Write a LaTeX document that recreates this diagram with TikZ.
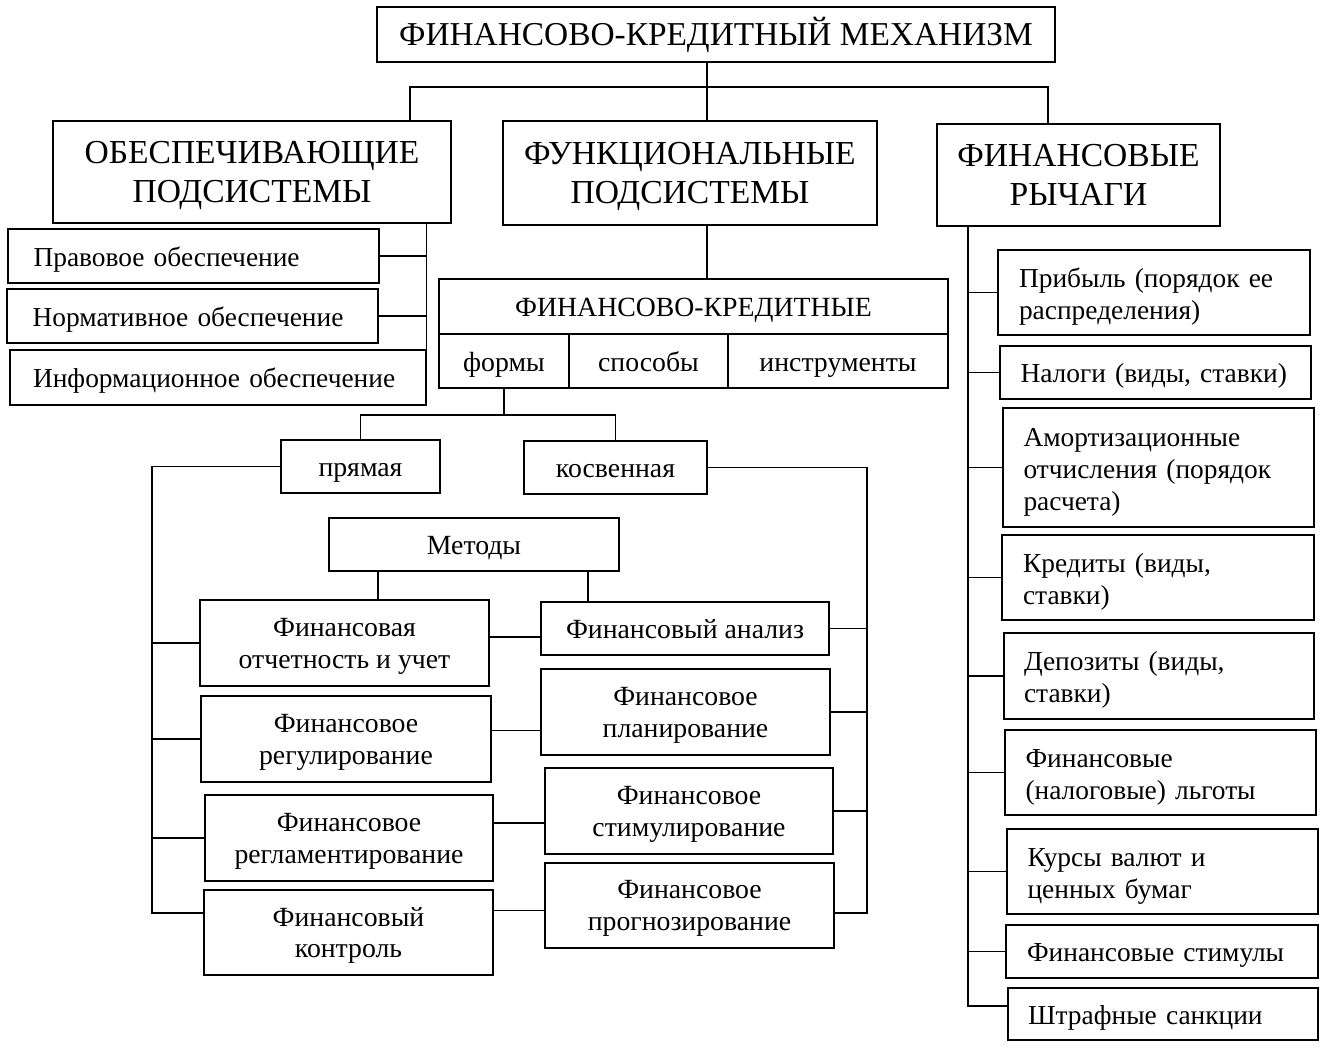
\documentclass[tikz,border=0pt]{standalone}
\usepackage{fontspec}
\setmainfont{Liberation Serif}
\usetikzlibrary{positioning,calc}
\tikzset{
  ttl/.style  ={draw, rectangle, line width=0.9pt, align=center, inner sep=0pt, font=\fontsize{19}{21.5}\selectfont, text height=17pt, text depth=4.3pt},
  hdr/.style  ={draw, rectangle, line width=0.9pt, align=center, inner sep=0pt, font=\fontsize{19.1}{21.8}\selectfont, text depth=0pt},
  blk/.style  ={draw, rectangle, line width=0.9pt, align=center, inner sep=0pt, font=\fontsize{15.8}{18.2}\selectfont, text depth=0pt},
  one/.style  ={text height=15.5pt, text depth=3.6pt},
  lst/.style  ={draw, rectangle, line width=0.9pt, align=left, inner xsep=0.4cm, inner ysep=0pt, font=\fontsize{15.6}{18.2}\selectfont, text height=15.5pt},
  ln/.style   ={line width=0.8pt},
}

\begin{document}
\begin{tikzpicture}[x=0.02cm, y=-0.02cm]
  \useasboundingbox (0,0) rectangle (1329,1051);

  % top level
  \node[ttl, minimum width=13.56cm, minimum height=1.10cm] (mech) at (716,34.5) {ФИНАНСОВО-КРЕДИТНЫЙ МЕХАНИЗМ};
  \node[hdr, minimum width=7.96cm, minimum height=2.04cm] (obesp) at (252,172) {ОБЕСПЕЧИВАЮЩИЕ\\ПОДСИСТЕМЫ};
  \node[hdr, minimum width=7.48cm, minimum height=2.08cm] (funk) at (690,173) {ФУНКЦИОНАЛЬНЫЕ\\ПОДСИСТЕМЫ};
  \node[hdr, minimum width=5.66cm, minimum height=2.04cm] (rych) at (1078.5,175) {ФИНАНСОВЫЕ\\РЫЧАГИ};

  \coordinate (busM) at (707,87);
  \coordinate (busL) at (410,87);
  \coordinate (busR) at (1048,87);
  \draw[ln] (busM |- mech.south) -- (busM);
  \draw[ln] (busL |- obesp.north) -- (busL) -- (busR) -- (busR |- rych.north);
  \draw[ln] (busM) -- (busM |- funk.north);

  % supporting subsystems
  \node[lst, one, text width=6.4cm, minimum width=7.42cm, minimum height=1.08cm] (prav) at (193.5,256) {Правовое обеспечение};
  \node[lst, one, text width=6.4cm, minimum width=7.42cm, minimum height=1.08cm] (norm) at (192.5,316) {Нормативное обеспечение};
  \node[lst, one, text width=7.4cm, minimum width=8.32cm, minimum height=1.10cm] (info) at (218,377.5) {Информационное обеспечение};

  \draw[ln] (info.north east |- obesp.south) -- (info.north east);
  \draw[ln] (prav.east) -- (prav.east -| info.east);
  \draw[ln] (norm.east) -- (norm.east -| info.east);

  % functional subsystems
  \node[blk, one, minimum width=10.18cm, minimum height=1.10cm] (fkhead) at (693.5,306.5) {ФИНАНСОВО-КРЕДИТНЫЕ};
  \node[blk, one, minimum width=2.60cm, minimum height=1.08cm] (formy) at (504,361) {формы};
  \node[blk, one, minimum width=3.18cm, minimum height=1.08cm] (sposob) at (648.5,361) {способы};
  \node[blk, one, minimum width=4.40cm, minimum height=1.08cm] (instr) at (838,361) {инструменты};
  \draw[ln] (busM |- funk.south) -- (busM |- fkhead.north);

  \node[blk, one, minimum width=3.18cm, minimum height=1.06cm] (pryam) at (360.5,466.5) {прямая};
  \node[blk, one, minimum width=3.66cm, minimum height=1.06cm] (kosv) at (615.5,467.5) {косвенная};
  \coordinate (fj) at (504,415);
  \draw[ln] (formy.south) -- (fj);
  \draw[ln] (pryam.north) |- (fj) -| (kosv.north);

  \node[blk, one, minimum width=5.80cm, minimum height=1.06cm] (met) at (474,544.5) {Методы};

  % methods, left row
  \node[blk, minimum width=5.78cm, minimum height=1.72cm] (otch) at (344.5,643) {Финансовая\\отчетность и учет};
  \node[blk, minimum width=5.80cm, minimum height=1.72cm] (regul) at (346,739) {Финансовое\\регулирование};
  \node[blk, minimum width=5.76cm, minimum height=1.72cm] (reglam) at (349,838) {Финансовое\\регламентирование};
  \node[blk, minimum width=5.78cm, minimum height=1.70cm] (kontr) at (348.5,932.5) {Финансовый\\контроль};

  % methods, right row
  \node[blk, one, minimum width=5.76cm, minimum height=1.06cm] (anal) at (685,628.5) {Финансовый анализ};
  \node[blk, minimum width=5.78cm, minimum height=1.72cm] (plan) at (685.5,712) {Финансовое\\планирование};
  \node[blk, minimum width=5.76cm, minimum height=1.72cm] (stim) at (689,811) {Финансовое\\стимулирование};
  \node[blk, minimum width=5.78cm, minimum height=1.70cm] (prog) at (689.5,905.5) {Финансовое\\прогнозирование};

  \coordinate (m1) at (378,571);
  \coordinate (m2) at (588,571);
  \draw[ln] (m1) -- (m1 |- otch.north);
  \draw[ln] (m2) -- (m2 |- anal.north);

  \draw[ln] ([yshift=3.4pt]otch.east) -- ([yshift=3.4pt]otch.east -| anal.west);
  \draw[ln] ([yshift=5pt]regul.east) -- ([yshift=5pt]regul.east -| plan.west);
  \draw[ln] ([yshift=8.5pt]reglam.east) -- ([yshift=8.5pt]reglam.east -| stim.west);
  \draw[ln] ([yshift=-3pt]prog.west -| kontr.east) -- ([yshift=-3pt]prog.west);

  % direct / indirect buses
  \coordinate (lbus) at (152,913);
  \coordinate (rbus) at (867,913);
  \draw[ln] (pryam.west) -| (lbus) -- (lbus -| kontr.west);
  \foreach \n in {otch,regul,reglam}
    \draw[ln] (lbus |- \n.west) -- (\n.west);
  \draw[ln] (kosv.east) -| (rbus) -- (rbus -| prog.east);
  \foreach \n in {anal,plan,stim}
    \draw[ln] (rbus |- \n.east) -- (\n.east);

  % financial levers
  \node[lst, text width=5.4cm, minimum width=6.24cm, minimum height=1.70cm] (prib) at (1154,292.5) {Прибыль (порядок ее\\распределения)};
  \node[lst, one, text width=5.4cm, minimum width=6.22cm, minimum height=1.06cm] (nalog) at (1155.5,372.5) {Налоги (виды, ставки)};
  \node[lst, text width=5.4cm, minimum width=6.22cm, minimum height=2.38cm] (amort) at (1158.5,467.5) {Амортизационные\\отчисления (порядок\\расчета)};
  \node[lst, text width=5.4cm, minimum width=6.24cm, minimum height=1.70cm] (kred) at (1158,577.5) {Кредиты (виды,\\ставки)};
  \node[lst, text width=5.4cm, minimum width=6.20cm, minimum height=1.72cm] (depoz) at (1159,676) {Депозиты (виды,\\ставки)};
  \node[lst, text width=5.4cm, minimum width=6.22cm, minimum height=1.70cm] (lgoty) at (1160.5,772.5) {Финансовые\\(налоговые) льготы};
  \node[lst, text width=5.4cm, minimum width=6.22cm, minimum height=1.70cm] (kursy) at (1162.5,871.5) {Курсы валют и\\ценных бумаг};
  \node[lst, one, text width=5.4cm, minimum width=6.24cm, minimum height=1.06cm] (stimuly) at (1162,951.5) {Финансовые стимулы};
  \node[lst, one, text width=5.4cm, minimum width=6.20cm, minimum height=1.04cm] (shtraf) at (1163,1014) {Штрафные санкции};

  \coordinate (rb) at (968,1006);
  \draw[ln] (rb |- rych.south) -- (rb) -- (rb -| shtraf.west);
  \foreach \n in {prib,nalog,amort,kred,depoz,lgoty,kursy,stimuly}
    \draw[ln] (rb |- \n.west) -- (\n.west);
\end{tikzpicture}
\end{document}
